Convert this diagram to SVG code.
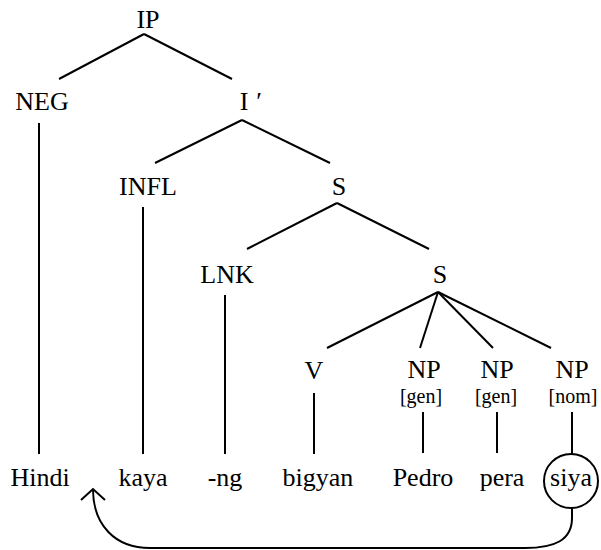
<svg xmlns="http://www.w3.org/2000/svg" width="601" height="550" viewBox="0 0 601 550">
<style>
.t text{fill:#000;text-anchor:middle}
.l{font-size:26px}
.f{font-size:20px}
.e{stroke:#000;stroke-width:2;fill:none}
</style>
<defs>
<marker id="arr" markerUnits="userSpaceOnUse" viewBox="0 0 30 30" markerWidth="30" markerHeight="30" refX="15" refY="15" orient="auto">
<path d="M4,3 L15,15 L4,27" fill="none" stroke="#000" stroke-width="2"/>
</marker>
</defs>
<rect width="601" height="550" fill="#fff"/>
<g id="connectors" class="e">
<line x1="144" y1="34" x2="59" y2="79"/>
<line x1="144" y1="34" x2="232" y2="79"/>
<line x1="39" y1="123" x2="39" y2="454"/>
<line x1="242" y1="120" x2="155" y2="163"/>
<line x1="242" y1="120" x2="330" y2="163"/>
<line x1="143" y1="207" x2="143" y2="454"/>
<line x1="337" y1="203" x2="247" y2="249"/>
<line x1="337" y1="203" x2="429" y2="249"/>
<line x1="225" y1="295" x2="225" y2="454"/>
<line x1="438" y1="292" x2="327" y2="348"/>
<line x1="438" y1="292" x2="420" y2="348"/>
<line x1="438" y1="292" x2="493" y2="348"/>
<line x1="438" y1="292" x2="551" y2="348"/>
<line x1="314" y1="393" x2="314" y2="454"/>
<line x1="423" y1="412" x2="423" y2="453"/>
<line x1="497" y1="412" x2="497" y2="453"/>
<line x1="572" y1="412" x2="572" y2="454"/>
<path d="M572,508 L572,518 C572,540 555,548 525,548 L150,548 C115,548 93,525 93,489" marker-end="url(#arr)"/>
</g>
<g class="t" font-family="Liberation Serif, Times New Roman, serif">
<g id="IP"><text class="l" x="148" y="28">IP</text></g>
<g id="NEG"><text class="l" x="42" y="110">NEG</text></g>
<g id="Ibar"><text class="l" x="244" y="110">I</text><text class="l" x="259" y="110">′</text></g>
<g id="INFL"><text class="l" x="148" y="195">INFL</text></g>
<g id="S1"><text class="l" x="339" y="195">S</text></g>
<g id="LNK"><text class="l" x="227" y="283">LNK</text></g>
<g id="S2"><text class="l" x="440" y="283">S</text></g>
<g id="V"><text class="l" x="314" y="379">V</text></g>
<g id="NP1"><text class="l" x="424" y="378">NP</text><text class="f" x="421" y="403">[gen]</text></g>
<g id="NP2"><text class="l" x="497" y="378">NP</text><text class="f" x="496" y="403">[gen]</text></g>
<g id="NP3"><text class="l" x="572" y="378">NP</text><text class="f" x="573" y="403">[nom]</text></g>
<g id="Hindi"><text class="l" x="40" y="486">Hindi</text></g>
<g id="kaya"><text class="l" x="143" y="486">kaya</text></g>
<g id="ng"><text class="l" x="225" y="486">-ng</text></g>
<g id="bigyan"><text class="l" x="318" y="486">bigyan</text></g>
<g id="Pedro"><text class="l" x="423" y="486">Pedro</text></g>
<g id="pera"><text class="l" x="502" y="486">pera</text></g>
<g id="siya"><text class="l" x="571" y="486">siya</text><circle class="e" cx="571" cy="481" r="27"/></g>
</g>
</svg>
